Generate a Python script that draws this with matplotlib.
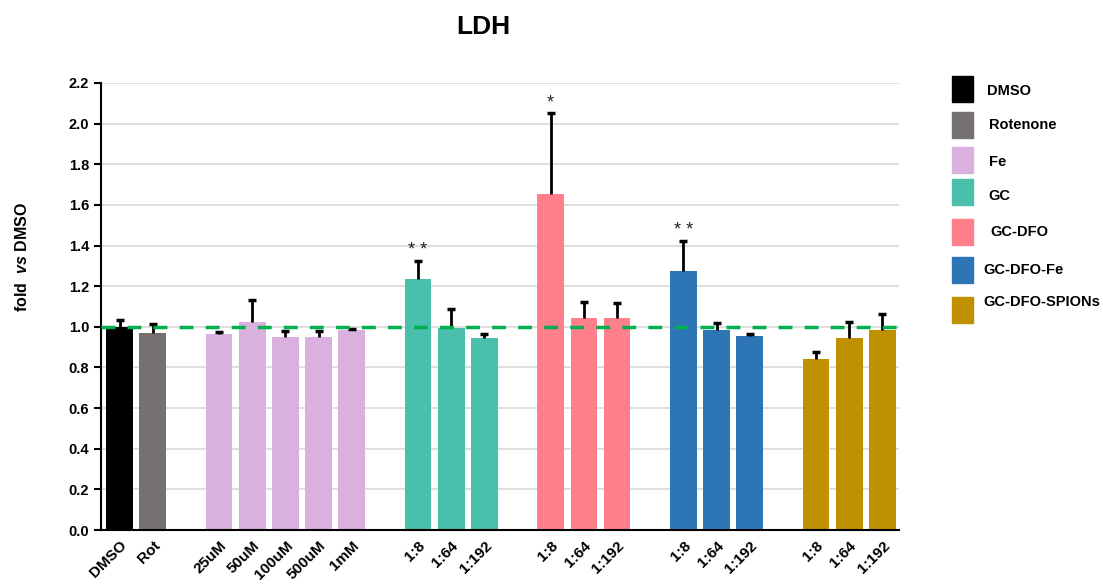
import matplotlib
matplotlib.use("Agg")
import matplotlib.pyplot as plt
from matplotlib.patches import Rectangle

plt.rcParams['font.family'] = ['Liberation Sans', 'DejaVu Sans']
plt.rcParams['font.weight'] = 'bold'
plt.rcParams['mathtext.fontset'] = 'custom'
plt.rcParams['mathtext.it'] = 'Liberation Sans:italic:bold'

# data
labels = ['DMSO', 'Rot', '25uM', '50uM', '100uM', '500uM', '1mM',
          '1:8', '1:64', '1:192', '1:8', '1:64', '1:192',
          '1:8', '1:64', '1:192', '1:8', '1:64', '1:192']
groups = ['DMSO', 'Rotenone', 'Fe', 'Fe', 'Fe', 'Fe', 'Fe',
          'GC', 'GC', 'GC', 'GC-DFO', 'GC-DFO', 'GC-DFO',
          'GC-DFO-Fe', 'GC-DFO-Fe', 'GC-DFO-Fe',
          'GC-DFO-SPIONs', 'GC-DFO-SPIONs', 'GC-DFO-SPIONs']
positions = [0, 1, 3, 4, 5, 6, 7, 9, 10, 11, 13, 14, 15, 17, 18, 19, 21, 22, 23]
values = [1.000, 0.968, 0.965, 1.022, 0.948, 0.948, 0.984,
          1.234, 0.994, 0.945, 1.654, 1.043, 1.043,
          1.275, 0.984, 0.955, 0.842, 0.945, 0.984]
errors = [0.033, 0.046, 0.009, 0.110, 0.033, 0.033, 0.006,
          0.090, 0.095, 0.018, 0.396, 0.079, 0.073,
          0.147, 0.036, 0.011, 0.034, 0.080, 0.080]
stars = {7: '* *', 10: '*', 13: '* *'}

legend_names = ['DMSO', 'Rotenone', 'Fe', 'GC', 'GC-DFO', 'GC-DFO-Fe', 'GC-DFO-SPIONs']
colors = {'DMSO': '#000000', 'Rotenone': '#767171', 'Fe': '#D9B0DE',
          'GC': '#4ABFAC', 'GC-DFO': '#FF7F8A', 'GC-DFO-Fe': '#2E75B6',
          'GC-DFO-SPIONs': '#BF9000'}

fig = plt.figure(figsize=(11.03, 5.88), dpi=100)
ax = fig.add_axes([101 / 1103, 1 - 530 / 588, 798 / 1103, 447 / 588])

bar_colors = [colors[g] for g in groups]
ax.bar(positions, values, width=0.8, color=bar_colors, zorder=2)

# upper error bars only, cap at the top
tops = [v + e for v, e in zip(values, errors)]
ax.vlines(positions, values, tops, color='black', lw=2, zorder=3)
ax.scatter(positions, tops, marker='_', s=40, linewidths=2.5, color='black', zorder=3)

for i, s in stars.items():
    ax.text(positions[i], tops[i] + 0.01, s, ha='center', va='bottom',
            fontsize=13, fontweight='normal', color='#222222')

ax.axhline(1.0, color='#00B050', lw=2.5, ls=(0, (4, 3.5)), zorder=4)

ax.set_xlim(-0.56, 23.5)
ax.set_ylim(0, 2.2)
ax.set_yticks([i * 0.2 for i in range(12)])
ax.set_yticklabels([f'{i * 0.2:.1f}' for i in range(12)], fontsize=10.5, fontweight='bold')
ax.yaxis.grid(True, color='#D9D9D9', lw=1.2, zorder=0)
ax.set_axisbelow(True)
ax.tick_params(axis='y', length=5, width=1.5, direction='out')
ax.tick_params(axis='x', length=0, pad=6)
ax.set_xticks(positions)
ax.set_xticklabels(labels, rotation=45, ha='right', rotation_mode='anchor',
                   fontsize=11, fontweight='bold')
for side in ['top', 'right']:
    ax.spines[side].set_visible(False)
ax.spines['left'].set_linewidth(1.5)
ax.spines['bottom'].set_linewidth(1.5)

fig.text(22 / 1103, 1 - 257 / 588, r'fold  $\mathit{vs}$ DMSO', rotation=90,
         ha='center', va='center', fontsize=11.5, fontweight='bold')
fig.text(483 / 1103, 1 - 27 / 588, 'LDH', ha='center', va='center',
         fontsize=19, fontweight='bold')

# hand-placed legend like the reference
leg_y = [89, 125, 160, 192, 232, 270, 310]
txt_x = [987, 989, 989, 988, 990, 983, 983]
txt_y = [91, 125, 162, 196, 232, 270, 302]
for name, yc, tx, ty in zip(legend_names, leg_y, txt_x, txt_y):
    fig.patches.append(Rectangle((952 / 1103, 1 - (yc + 13) / 588), 21 / 1103, 26 / 588,
                                 transform=fig.transFigure, color=colors[name]))
    fig.text(tx / 1103, 1 - ty / 588, name, ha='left', va='center',
             fontsize=10.5, fontweight='bold')

fig.savefig('out.png', dpi=100)
